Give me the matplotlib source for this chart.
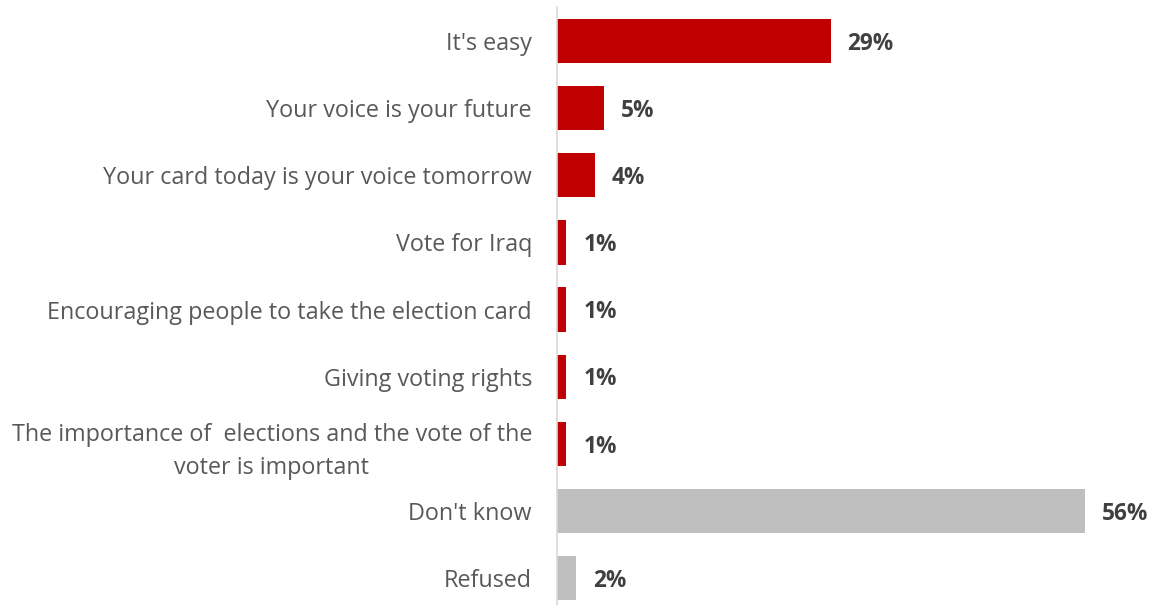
import matplotlib.pyplot as plt

plt.rcParams['font.family'] = ['Open Sans', 'DejaVu Sans']

labels = [
    "It's easy",
    "Your voice is your future",
    "Your card today is your voice tomorrow",
    "Vote for Iraq",
    "Encouraging people to take the election card",
    "Giving voting rights",
    "The importance of  elections and the vote of the\nvoter is important",
    "Don't know",
    "Refused",
]
values = [29, 5, 4, 1, 1, 1, 1, 56, 2]
colors = ['#C00000'] * 7 + ['#BFBFBF'] * 2

W, H = 1153, 605
fig = plt.figure(figsize=(W / 100, H / 100), dpi=100)
ax = fig.add_axes([557 / W, 0, (1140 - 557) / W, (605 - 7) / H])

ypos = list(range(len(labels)))
ax.barh(ypos, values, height=0.66, color=colors)
ax.set_xlim(0, 61.8)
ax.set_ylim(8.40, -0.507)

for y, v in zip(ypos, values):
    ax.text(v + 1.8, y + 0.04, f'{v}%', va='center', ha='left',
            fontsize=16.3, fontweight='bold', color='#404040')

ax.set_yticks(ypos)
ax.set_yticklabels(labels, fontsize=16.8, color='#595959', ha='right',
                   multialignment='center', linespacing=1.5)
ax.tick_params(axis='y', length=0, pad=18)
ax.set_xticks([])

for s in ['top', 'right', 'bottom']:
    ax.spines[s].set_visible(False)
ax.spines['left'].set_color('#D9D9D9')
ax.spines['left'].set_linewidth(1.2)

fig.savefig('out.png', dpi=100)
